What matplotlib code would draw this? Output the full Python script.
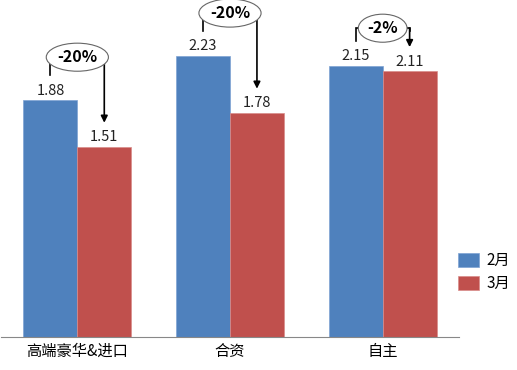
import matplotlib
matplotlib.use('Agg')
import matplotlib.pyplot as plt
import numpy as np

plt.rcParams['font.family'] = ['Noto Sans CJK SC', 'DejaVu Sans']

categories = ['高端豪华&进口', '合资', '自主']
feb = [1.88, 2.23, 2.15]
mar = [1.51, 1.78, 2.11]
changes = ['-20%', '-20%', '-2%']
series_names = ['2月', '3月']

blue = '#4F81BD'
red = '#C0504D'

fig = plt.figure(figsize=(5.17, 3.7), dpi=100)
ax = fig.add_axes([1 / 517, 33 / 370, 458 / 517, 334 / 370])

x = np.arange(len(categories))
w = 0.353
b1 = ax.bar(x - w / 2, feb, w, color=blue, edgecolor='#7fa3d3', linewidth=0.5, label=series_names[0])
b2 = ax.bar(x + w / 2, mar, w, color=red, edgecolor='#d98c8a', linewidth=0.5, label=series_names[1])

for xi, v in zip(x - w / 2, feb):
    ax.text(xi, v + 0.02, f'{v:.2f}', ha='center', va='bottom', fontsize=10.5, color='#222222')
for xi, v in zip(x + w / 2, mar):
    ax.text(xi, v + 0.02, f'{v:.2f}', ha='center', va='bottom', fontsize=10.5, color='#222222')

# brackets with change labels
for i in range(len(categories)):
    xl = x[i] - w / 2
    xr = x[i] + w / 2
    top = max(feb[i], mar[i]) + (0.34 if i < 2 else 0.30)
    ax.plot([xl, xl, xr, xr], [feb[i] + 0.2, top, top, top - 0.02],
            color='black', lw=1.2, solid_joinstyle='miter')
    ax.annotate('', xy=(xr, mar[i] + 0.19), xytext=(xr, top),
                arrowprops=dict(arrowstyle='-|>', color='black', lw=1.2,
                                mutation_scale=10, shrinkA=0, shrinkB=0))
    ax.text(x[i], top, changes[i], ha='center', va='center', fontsize=11.5,
            fontweight='bold',
            bbox=dict(boxstyle='ellipse,pad=0.12', fc='white', ec='#666666', lw=0.8))

ax.set_xlim(-0.5, 2.5)
ax.set_ylim(0, 2.65)
ax.set_xticks(x)
ax.set_xticklabels(categories, fontsize=11)
ax.tick_params(axis='x', length=0, pad=4)
ax.set_yticks([])
for s in ['top', 'right', 'left']:
    ax.spines[s].set_visible(False)
ax.spines['bottom'].set_color('#888888')

fig.legend(handles=[b1, b2], labels=series_names, loc='center left',
           bbox_to_anchor=(444 / 517, 1 - 272 / 370), frameon=False,
           fontsize=11, handlelength=1.4, handleheight=1.0, handletextpad=0.5,
           labelspacing=0.4)

fig.savefig('out.png', dpi=100)
